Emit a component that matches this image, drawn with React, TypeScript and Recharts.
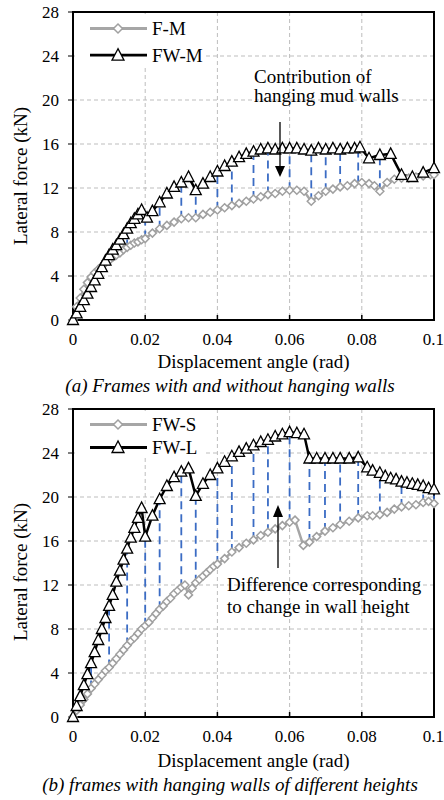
import React from 'react';
import { ComposedChart, Line, XAxis, YAxis, CartesianGrid, ReferenceArea } from 'recharts';

const FONT = "'Liberation Serif', 'Times New Roman', serif";

const xTicks = [0, 0.02, 0.04, 0.06, 0.08, 0.1];
const yTicks = [0, 4, 8, 12, 16, 20, 24, 28];

// ---------- Panel (a) ----------
const fmX = [0, 0.001, 0.002, 0.003, 0.004, 0.005, 0.006, 0.007, 0.008, 0.009, 0.010, 0.011, 0.012, 0.013, 0.014, 0.015, 0.016, 0.017, 0.018, 0.019, 0.020,
  0.022, 0.024, 0.026, 0.028, 0.030, 0.032, 0.034, 0.036, 0.038, 0.040, 0.042, 0.044, 0.046, 0.048, 0.050, 0.052, 0.054, 0.056, 0.058, 0.060,
  0.062, 0.064, 0.066, 0.068, 0.070, 0.072, 0.074, 0.076, 0.078, 0.080, 0.082, 0.0835, 0.085, 0.087, 0.089, 0.091, 0.093, 0.095, 0.097, 0.099, 0.100];
const fmY = [0, 1.2, 2.0, 2.8, 3.4, 3.9, 4.3, 4.6, 4.9, 5.2, 5.4, 5.7, 5.9, 6.1, 6.4, 6.6, 6.8, 7.0, 7.1, 7.3, 7.4,
  7.9, 8.3, 8.6, 8.9, 9.2, 9.3, 9.3, 9.6, 9.8, 10.0, 10.2, 10.4, 10.6, 10.8, 11.0, 11.2, 11.4, 11.5, 11.7, 11.8,
  11.8, 11.7, 10.8, 11.3, 11.7, 11.9, 12.1, 12.2, 12.4, 12.5, 12.4, 12.2, 11.7, 12.5, 12.8, 12.9, 12.9, 13.0, 13.1, 13.2, 13.2];

const fwmX = [0, 0.001, 0.002, 0.003, 0.004, 0.005, 0.006, 0.007, 0.008, 0.009, 0.010, 0.011, 0.012, 0.013, 0.014, 0.015, 0.016, 0.017, 0.018, 0.019,
  0.0205, 0.022, 0.024, 0.026, 0.028, 0.030, 0.032, 0.034, 0.036, 0.038, 0.040, 0.042, 0.044, 0.046, 0.048, 0.050, 0.052, 0.054, 0.056, 0.058,
  0.060, 0.062, 0.064, 0.066, 0.068, 0.070, 0.072, 0.074, 0.076, 0.078, 0.0795, 0.082, 0.085, 0.088, 0.091, 0.094, 0.097, 0.100];
const fwmY = [0, 0.6, 1.2, 1.8, 2.4, 3.0, 3.6, 4.2, 4.8, 5.4, 5.9, 6.4, 6.8, 7.3, 7.8, 8.3, 8.8, 9.2, 9.6, 10.0,
  9.3, 9.9, 10.7, 11.5, 12.1, 12.5, 13.0, 11.8, 12.4, 13.0, 13.5, 14.0, 14.4, 14.8, 15.1, 15.3, 15.5, 15.6, 15.5, 15.6,
  15.6, 15.6, 15.5, 15.4, 15.6, 15.5, 15.6, 15.5, 15.6, 15.6, 15.7, 14.7, 15.0, 15.1, 13.2, 13.0, 13.4, 13.8];

const gapAX = [0.005, 0.010, 0.015, 0.020, 0.024, 0.030, 0.034, 0.040, 0.044, 0.050, 0.054, 0.060, 0.066, 0.070, 0.074, 0.079, 0.085, 0.091, 0.097, 0.100];
const gapALow = [3.9, 5.4, 6.6, 7.4, 8.3, 9.2, 9.3, 10.0, 10.4, 11.0, 11.4, 11.8, 10.8, 11.7, 12.1, 12.4, 11.7, 12.9, 13.1, 13.2];
const gapAHigh = [3.0, 5.9, 8.3, 9.6, 10.7, 12.5, 11.8, 13.5, 14.4, 15.3, 15.6, 15.6, 15.4, 15.5, 15.5, 15.7, 15.0, 13.2, 13.4, 13.8];

// ---------- Panel (b) ----------
const fwsX = [0, 0.001, 0.002, 0.003, 0.004, 0.005, 0.006, 0.007, 0.008, 0.009, 0.010, 0.011, 0.012, 0.013, 0.014, 0.015, 0.016, 0.017, 0.018, 0.019, 0.020,
  0.021, 0.022, 0.023, 0.024, 0.025, 0.026, 0.027, 0.028, 0.029, 0.030, 0.031, 0.032, 0.033, 0.034, 0.035, 0.036, 0.037, 0.038, 0.039, 0.040,
  0.042, 0.044, 0.046, 0.048, 0.050, 0.052, 0.054, 0.056, 0.058, 0.060, 0.0615, 0.0638, 0.0655, 0.0675, 0.0698, 0.072, 0.074, 0.0765, 0.079,
  0.0815, 0.083, 0.085, 0.087, 0.089, 0.091, 0.093, 0.095, 0.097, 0.0985, 0.100];
const fwsY = [0, 0.6, 1.1, 1.6, 2.1, 2.6, 3.0, 3.4, 3.8, 4.2, 4.5, 4.9, 5.3, 5.7, 6.1, 6.5, 6.9, 7.2, 7.6, 8.0, 8.3,
  8.6, 9.0, 9.4, 9.8, 10.1, 10.5, 10.8, 11.2, 11.5, 11.8, 12.0, 11.1, 11.7, 12.2, 12.5, 12.8, 13.1, 13.4, 13.7, 13.9,
  14.4, 15.0, 15.4, 15.8, 16.1, 16.5, 16.8, 17.1, 17.4, 17.7, 17.9, 15.6, 15.9, 16.4, 16.9, 17.2, 17.5, 17.8, 18.1,
  18.3, 18.3, 18.4, 18.6, 18.9, 19.1, 19.2, 19.3, 19.5, 19.6, 19.4];

const fwlX = [0, 0.001, 0.002, 0.003, 0.004, 0.005, 0.006, 0.007, 0.008, 0.009, 0.010, 0.011, 0.012, 0.013, 0.014, 0.015, 0.016, 0.017, 0.018, 0.019,
  0.020, 0.022, 0.024, 0.026, 0.028, 0.030, 0.032, 0.034, 0.036, 0.038, 0.040, 0.042, 0.044, 0.046, 0.048, 0.050, 0.052, 0.054, 0.056, 0.058,
  0.060, 0.062, 0.064, 0.0655, 0.0675, 0.0698, 0.072, 0.074, 0.0765, 0.079, 0.0815, 0.083, 0.085, 0.0865, 0.088, 0.0895, 0.091, 0.0925, 0.094,
  0.0955, 0.097, 0.0985, 0.100];
const fwlY = [0, 1.0, 1.9, 2.9, 3.9, 4.9, 5.9, 7.0, 8.0, 9.0, 10.1, 11.1, 12.3, 13.3, 14.3, 15.3, 16.3, 17.2, 18.1, 19.0,
  16.4, 18.3, 19.8, 21.0, 21.8, 22.3, 22.6, 20.1, 21.2, 22.0, 22.6, 23.2, 23.7, 24.1, 24.4, 24.7, 25.0, 25.2, 25.5, 25.7,
  25.9, 25.8, 25.7, 23.5, 23.5, 23.5, 23.5, 23.5, 23.5, 23.6, 22.7, 22.4, 22.2, 21.9, 21.7, 21.6, 21.4, 21.3, 21.2,
  21.1, 21.0, 20.8, 20.7];

const gapBX = [0.001, 0.005, 0.010, 0.015, 0.020, 0.024, 0.030, 0.034, 0.040, 0.044, 0.050, 0.054, 0.060, 0.0655, 0.0698, 0.074, 0.079, 0.085, 0.091, 0.097, 0.100];
const gapBLow = [0.6, 2.6, 4.5, 6.5, 8.3, 9.8, 11.8, 12.2, 13.9, 15.0, 16.1, 16.8, 17.7, 15.9, 16.9, 17.5, 18.1, 18.4, 19.1, 19.5, 19.4];
const gapBHigh = [1.0, 4.9, 10.1, 15.3, 16.4, 19.8, 22.3, 20.1, 22.6, 23.7, 24.7, 25.2, 25.9, 23.5, 23.5, 23.5, 23.6, 22.2, 21.4, 21.0, 20.7];

const zip = (xs: number[], ys: number[]) => xs.map((x, i) => ({ x, y: ys[i] }));

const Tri = (p: any) => {
  const { cx, cy, index } = p;
  if (cx == null || cy == null) return null;
  return (
    <polygon key={`t-${index}`} points={`${cx},${cy - 6} ${cx - 5.5},${cy + 4.5} ${cx + 5.5},${cy + 4.5}`}
      fill="#fff" stroke="#000" strokeWidth={1.3} />
  );
};
const Dia = (p: any) => {
  const { cx, cy, index } = p;
  if (cx == null || cy == null) return null;
  return (
    <polygon key={`d-${index}`} points={`${cx},${cy - 4} ${cx + 4},${cy} ${cx},${cy + 4} ${cx - 4},${cy}`}
      fill="#fff" stroke="#a0a0a0" strokeWidth={1.5} />
  );
};

const fmtX = (v: number) => (v === 0 ? '0' : v === 0.1 ? '0.1' : v.toFixed(2));

type PanelProps = {
  top: number; height: number; mb: number;
  light: { x: number; y: number }[]; dark: { x: number; y: number }[];
  gx: number[]; glo: number[]; ghi: number[];
};

const Panel = ({ top, height, mb, light, dark, gx, glo, ghi }: PanelProps) => (
  <div style={{ position: 'absolute', left: 0, top, width: 444, height }}>
    <ComposedChart width={444} height={height} margin={{ top: 12, right: 10, bottom: mb, left: 0 }}
      style={{ fontFamily: FONT }}>
      <CartesianGrid stroke="#bdbdbd" strokeDasharray="4 3" strokeWidth={1} />
      <XAxis type="number" dataKey="x" domain={[0, 0.1]} ticks={xTicks} tickFormatter={fmtX}
        axisLine={{ stroke: '#000', strokeWidth: 2 }} tickLine={{ stroke: '#000', strokeWidth: 1.5 }} tickSize={-5} tickMargin={18} height={30}
        tick={{ fontSize: 17, fill: '#000', fontFamily: FONT }} />
      <YAxis type="number" domain={[0, 28]} ticks={yTicks} width={73}
        axisLine={{ stroke: '#000', strokeWidth: 2 }} tickLine={{ stroke: '#000' }} tickSize={5} tickMargin={9}
        tick={{ fontSize: 17, fill: '#000', fontFamily: FONT }} />
      <ReferenceArea x1={0} x2={0.1} y1={0} y2={28} fill="none" fillOpacity={0} stroke="#000" strokeWidth={2} />
      <Line data={light} dataKey="y" type="linear" stroke="#a6a6a6" strokeWidth={2.5} dot={Dia}
        isAnimationActive={false} />
      <Line data={dark} dataKey="y" type="linear" stroke="#000" strokeWidth={2.5} dot={Tri}
        isAnimationActive={false} />
      {gx.map((x, i) => (
        <Line key={`g-${i}`} data={[{ x, y: glo[i] }, { x, y: ghi[i] }]} dataKey="y" type="linear"
          stroke="#3b6cc4" strokeWidth={1.8} strokeDasharray="8 5" dot={false} isAnimationActive={false} />
      ))}
    </ComposedChart>
  </div>
);

const LegendRow = ({ y, label, dark }: { y: number; label: string; dark: boolean }) => (
  <g>
    <line x1={90} x2={147} y1={y} y2={y} stroke={dark ? '#000' : '#a6a6a6'} strokeWidth={2.8} />
    {dark ? (
      <polygon points={`118,${y - 6.5} 112,${y + 5} 124,${y + 5}`} fill="#fff" stroke="#000" strokeWidth={1.3} />
    ) : (
      <polygon points={`118,${y - 4.5} 122.5,${y} 118,${y + 4.5} 113.5,${y}`} fill="#fff" stroke="#a0a0a0" strokeWidth={1.5} />
    )}
    <text x={152} y={y + 6.5} fontSize={19} fontFamily={FONT} fill="#000">{label}</text>
  </g>
);

export default function App() {
  return (
    <div style={{ position: 'absolute', left: 0, top: 0, width: 444, height: 800, background: '#fff', overflow: 'hidden' }}>
      <Panel top={0} height={397} mb={47} light={zip(fmX, fmY)} dark={zip(fwmX, fwmY)}
        gx={gapAX} glo={gapALow} ghi={gapAHigh} />
      <Panel top={397} height={403} mb={53} light={zip(fwsX, fwsY)} dark={zip(fwlX, fwlY)}
        gx={gapBX} glo={gapBLow} ghi={gapBHigh} />
      <svg width={444} height={800} style={{ position: 'absolute', left: 0, top: 0, pointerEvents: 'none' }}>
        {/* legends */}
        <rect x={75} y={14} width={130} height={53} fill="#fff" />
        <LegendRow y={28.5} label="F-M" dark={false} />
        <LegendRow y={55.2} label="FW-M" dark={true} />
        <rect x={75} y={411} width={130} height={47} fill="#fff" />
        <LegendRow y={424.5} label="FW-S" dark={false} />
        <LegendRow y={447.5} label="FW-L" dark={true} />

        {/* annotations */}
        <text x={254} y={83} fontSize={19} fontFamily={FONT} fill="#000">Contribution of</text>
        <text x={254} y={102} fontSize={19} fontFamily={FONT} fill="#000">hanging mud walls</text>
        <line x1={280} x2={280} y1={122} y2={167} stroke="#000" strokeWidth={1.3} />
        <polygon points="275,166 285,166 280,177" fill="#000" />

        <text x={227} y={591} fontSize={19} fontFamily={FONT} fill="#000">Difference corresponding</text>
        <text x={227} y={613} fontSize={19} fontFamily={FONT} fill="#000">to change in wall height</text>
        <line x1={278} x2={278} y1={568} y2={516} stroke="#000" strokeWidth={1.3} />
        <polygon points="273,517 283,517 278,505" fill="#000" />

        {/* axis titles */}
        <text x={253.5} y={368} fontSize={19} fontFamily={FONT} fill="#000" textAnchor="middle">Displacement angle (rad)</text>
        <text x={253.5} y={767} fontSize={19} fontFamily={FONT} fill="#000" textAnchor="middle">Displacement angle (rad)</text>
        <text transform="translate(27,176) rotate(-90)" fontSize={19} fontFamily={FONT} fill="#000" textAnchor="middle">Lateral force (kN)</text>
        <text transform="translate(27,572) rotate(-90)" fontSize={19} fontFamily={FONT} fill="#000" textAnchor="middle">Lateral force (kN)</text>

        {/* captions */}
        <text x={230} y={392} fontSize={19} fontFamily={FONT} fontStyle="italic" fill="#000" textAnchor="middle">(a) Frames with and without hanging walls</text>
        <text x={230} y={791} fontSize={19} fontFamily={FONT} fontStyle="italic" fill="#000" textAnchor="middle">(b) frames with hanging walls of different heights</text>
      </svg>
    </div>
  );
}
